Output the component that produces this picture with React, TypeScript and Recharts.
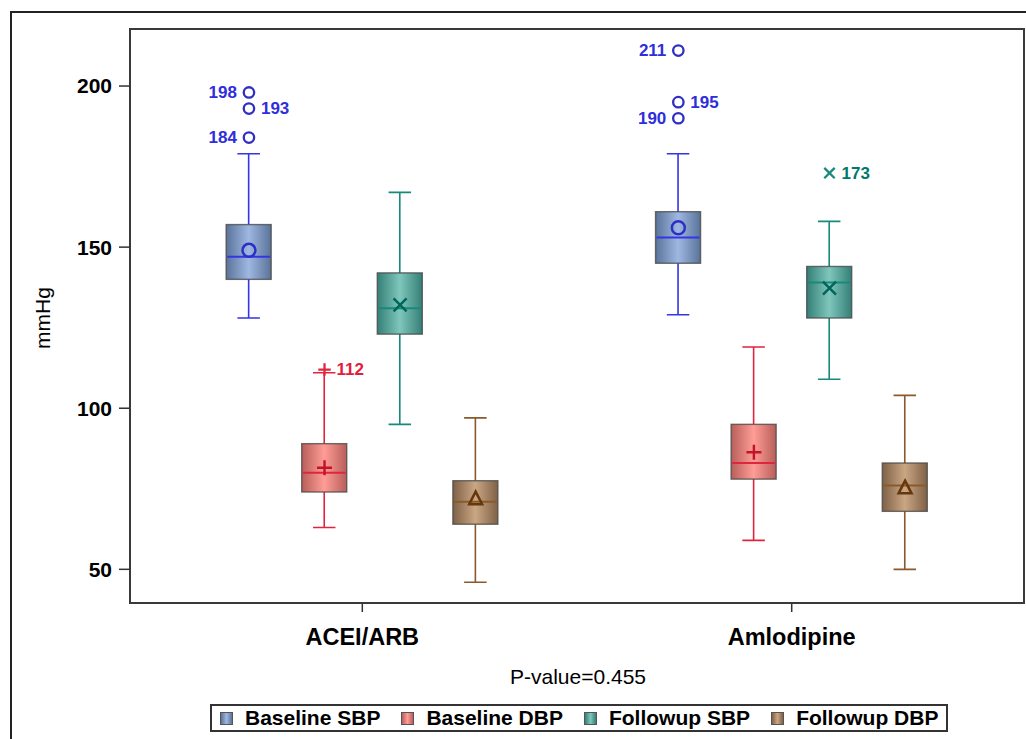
import React from 'react';
import { ComposedChart, Bar, Scatter, XAxis, YAxis, ReferenceArea } from 'recharts';

const groups = ['ACEI/ARB', 'Amlodipine'];
const seriesNames = ['Baseline SBP', 'Baseline DBP', 'Followup SBP', 'Followup DBP'];

// each row: [ACEI/ARB, Amlodipine]
const lowWhisker = [[128, 129], [63, 59], [95, 109], [46, 50]];
const q1 = [[140, 145], [74, 78], [123, 128], [64, 68]];
const median = [[147, 153], [80, 83], [131, 139], [71, 76]];
const q3 = [[157, 161], [89, 95], [142, 144], [77.5, 83]];
const highWhisker = [[179, 179], [111, 119], [167, 158], [97, 104]];
const means = [[149, 156], [81.5, 86.3], [132.1, 137.3], [71.8, 75.2]];
const outliers = [
  [[198, 193, 184], [211, 195, 190]],
  [[112], []],
  [[], [173]],
  [[], []],
];

const yTicks = [50, 100, 150, 200];
const pValue = 'P-value=0.455';

const FONT = '"Liberation Sans", Arial, Helvetica, sans-serif';
const offsets = [-0.264, -0.088, 0.088, 0.264];
const markers = ['circle', 'plus', 'x', 'triangle'];
const colors = [
  { edge: '#5a7399', mid: '#9eb8e2', line: '#3535e6', mark: '#2f2fc4', text: '#2e2edc' },
  { edge: '#b85e5a', mid: '#ff9d96', line: '#e0253e', mark: '#c4142c', text: '#e0203a' },
  { edge: '#347f76', mid: '#7fc6bc', line: '#17897d', mark: '#00665b', text: '#00786c' },
  { edge: '#7f6146', mid: '#caa683', line: '#8a5a2a', mark: '#66360c', text: '#7a4a1a' },
];

const boxRows = seriesNames.flatMap((_, s) =>
  groups.map((__, g) => ({
    x: g + offsets[s],
    range: [lowWhisker[s][g], highWhisker[s][g]],
    q1: q1[s][g],
    median: median[s][g],
    q3: q3[s][g],
    s,
  }))
);

const meanRows = (s: number) => groups.map((_, g) => ({ x: g + offsets[s], y: means[s][g], s }));

const outlierRows = (s: number) =>
  groups.flatMap((_, g) =>
    outliers[s][g].map((v, i, arr) => ({
      x: g + offsets[s],
      y: v,
      s,
      side: arr.length === 1 || i % 2 === 1 ? 'right' : 'left',
    }))
  );

function Marker({ type, cx, cy, color, r, sw }: any) {
  if (type === 'circle') return <circle cx={cx} cy={cy} r={r} fill="none" stroke={color} strokeWidth={sw} />;
  if (type === 'plus')
    return (
      <path d={`M${cx - r - 1},${cy}H${cx + r + 1}M${cx},${cy - r - 1}V${cy + r + 1}`} stroke={color} strokeWidth={sw} />
    );
  if (type === 'x')
    return (
      <path d={`M${cx - r},${cy - r}L${cx + r},${cy + r}M${cx - r},${cy + r}L${cx + r},${cy - r}`} stroke={color} strokeWidth={sw} />
    );
  return (
    <path d={`M${cx},${cy - r - 1}L${cx + r},${cy + r * 0.8}L${cx - r},${cy + r * 0.8}Z`} fill="none" stroke={color} strokeWidth={sw} />
  );
}

function BoxShape(props: any) {
  const { x, y, width, height, payload } = props;
  const c = colors[payload.s];
  const [lo, hi] = payload.range;
  const top = Math.min(y, y + height);
  const k = Math.abs(height) / (hi - lo);
  const py = (v: number) => top + (hi - v) * k;
  const cx = x + width / 2;
  const cap = width / 4;
  return (
    <g>
      <path
        d={`M${cx},${py(hi)}V${py(payload.q3)}M${cx},${py(payload.q1)}V${py(lo)}M${cx - cap},${py(hi)}H${cx + cap}M${cx - cap},${py(lo)}H${cx + cap}`}
        stroke={c.line}
        strokeWidth={1.6}
      />
      <rect
        x={x}
        y={py(payload.q3)}
        width={width}
        height={py(payload.q1) - py(payload.q3)}
        fill={`url(#box-grad-${payload.s})`}
        stroke="#4a4a4a"
        strokeOpacity={0.8}
        strokeWidth={1.4}
      />
      <line x1={x + 1} x2={x + width - 1} y1={py(payload.median)} y2={py(payload.median)} stroke={c.line} strokeWidth={2} />
    </g>
  );
}

const MeanShape = (props: any) => {
  const { cx, cy, payload } = props;
  return <Marker type={markers[payload.s]} cx={cx} cy={cy} r={6.5} sw={2.5} color={colors[payload.s].mark} />;
};

const OutlierShape = (props: any) => {
  const { cx, cy, payload } = props;
  const c = colors[payload.s];
  const right = payload.side === 'right';
  return (
    <g>
      <Marker type={markers[payload.s]} cx={cx} cy={cy} r={5.2} sw={2.3} color={payload.s === 0 ? c.mark : c.line} />
      <text
        x={right ? cx + 12 : cx - 12}
        y={cy}
        textAnchor={right ? 'start' : 'end'}
        dominantBaseline="central"
        fontFamily={FONT}
        fontWeight="bold"
        fontSize={17}
        fill={c.text}
      >
        {payload.y}
      </text>
    </g>
  );
};

const YLabel = ({ viewBox }: any) => {
  const x = viewBox.x + 50;
  const y = viewBox.y + viewBox.height / 2 + 2;
  return (
    <text x={x} y={y} transform={`rotate(-90 ${x} ${y})`} textAnchor="middle" fontFamily={FONT} fontSize={21} fill="#000">
      mmHg
    </text>
  );
};

const PLabel = ({ viewBox }: any) => (
  <text
    x={viewBox.x + viewBox.width / 2 + 1}
    y={viewBox.y + 73}
    textAnchor="middle"
    dominantBaseline="central"
    fontFamily={FONT}
    fontSize={21}
    fill="#000"
  >
    {pValue}
  </text>
);

const X_DOMAIN: [number, number] = [-0.541, 1.541];
const Y_DOMAIN: [number, number] = [39.55, 217.7];

export default function App() {
  return (
    <div style={{ position: 'absolute', left: 0, top: 0, width: 1026, height: 739, overflow: 'hidden', background: '#fff' }}>
      <div
        style={{ position: 'absolute', left: 10, top: 11, width: 1100, height: 900, border: '2px solid #222' }}
      />
      <div style={{ position: 'absolute', left: 0, top: 0 }}>
        <ComposedChart width={1026} height={739} data={boxRows} margin={{ top: 29, right: 2, bottom: 76, left: 0 }}>
          <defs>
            {colors.map((c, i) => (
              <linearGradient key={i} id={`box-grad-${i}`} x1="0" y1="0" x2="1" y2="0">
                <stop offset="0%" stopColor={c.edge} />
                <stop offset="50%" stopColor={c.mid} />
                <stop offset="100%" stopColor={c.edge} />
              </linearGradient>
            ))}
          </defs>
          <XAxis
            type="number"
            dataKey="x"
            domain={X_DOMAIN}
            ticks={[0, 1]}
            tickFormatter={(v: number) => groups[v]}
            allowDataOverflow
            height={60}
            axisLine={false}
            tickSize={9}
            tickMargin={16}
            tickLine={{ stroke: '#333', strokeWidth: 1.5 }}
            tick={{ fontFamily: FONT, fontWeight: 'bold', fontSize: 23.5, fill: '#000' }}
            label={<PLabel />}
          />
          <YAxis
            type="number"
            domain={Y_DOMAIN}
            ticks={yTicks}
            allowDataOverflow
            width={130}
            axisLine={false}
            tickSize={11}
            tickMargin={7}
            tickLine={{ stroke: '#333', strokeWidth: 1.5 }}
            tick={{ fontFamily: FONT, fontWeight: 'bold', fontSize: 21, fill: '#000' }}
            label={<YLabel />}
          />
          <ReferenceArea
            x1={X_DOMAIN[0]}
            x2={X_DOMAIN[1]}
            y1={Y_DOMAIN[0]}
            y2={Y_DOMAIN[1]}
            fill="none"
            stroke="#3a3a3a"
            strokeWidth={2}
            ifOverflow="visible"
          />
          <Bar dataKey="range" barSize={45} shape={BoxShape} isAnimationActive={false} />
          {seriesNames.map((name, s) => (
            <Scatter
              key={`mean-${s}`}
              name={name}
              data={meanRows(s)}
              dataKey="y"
              shape={MeanShape}
              isAnimationActive={false}
            />
          ))}
          {seriesNames.map((name, s) => (
            <Scatter
              key={`out-${s}`}
              name={`${name} outliers`}
              data={outlierRows(s)}
              dataKey="y"
              shape={OutlierShape}
              isAnimationActive={false}
            />
          ))}
        </ComposedChart>
      </div>
      <div
        style={{
          position: 'absolute',
          left: 210,
          top: 704,
          width: 726,
          height: 24,
          border: '2px solid #333',
          display: 'flex',
          alignItems: 'center',
          paddingLeft: 8,
          boxSizing: 'content-box',
          fontFamily: FONT,
          fontWeight: 'bold',
          fontSize: 21,
          color: '#000',
        }}
      >
        {seriesNames.map((name, i) => (
          <div key={name} style={{ display: 'flex', alignItems: 'center', marginRight: 21 }}>
            <span
              style={{
                display: 'inline-block',
                width: 11,
                height: 11,
                border: '1px solid #555',
                background: `linear-gradient(to right, ${colors[i].edge}, ${colors[i].mid}, ${colors[i].edge})`,
                marginRight: 12,
              }}
            />
            <span style={{ whiteSpace: 'nowrap' }}>{name}</span>
          </div>
        ))}
      </div>
    </div>
  );
}
